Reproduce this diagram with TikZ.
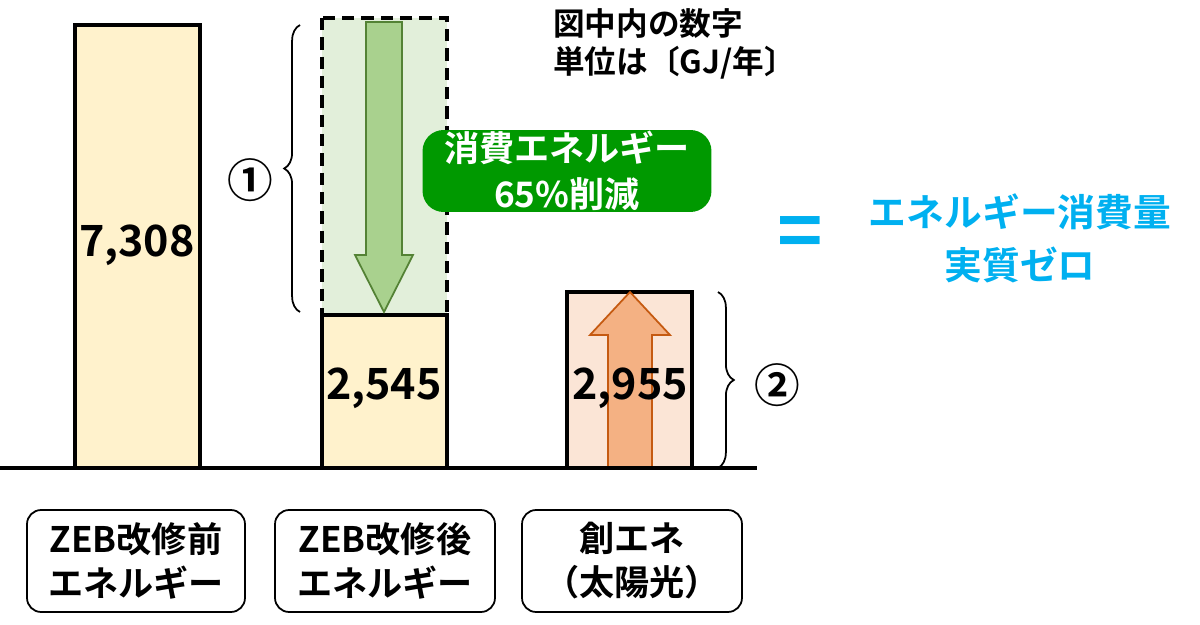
\documentclass[tikz,border=0pt]{standalone}
\usepackage{fontspec}
\setmainfont{Noto Sans CJK JP Bold}
\usetikzlibrary{decorations.pathreplacing}
\definecolor{ylw}{HTML}{FFF2CC}
\definecolor{lgr}{HTML}{E2EFDA}
\definecolor{agr}{HTML}{A9D18E}
\definecolor{dgr}{HTML}{548235}
\definecolor{pch}{HTML}{FBE5D6}
\definecolor{aor}{HTML}{F4B183}
\definecolor{dor}{HTML}{C55A11}
\definecolor{bgr}{HTML}{009900}
\definecolor{cyn}{HTML}{00B0F0}
\tikzset{x=0.02cm,y=-0.02cm,
 bar/.style={draw=black,line width=1.8pt},
 lbl/.style={draw=black,line width=1pt,rounded corners=8pt,align=center,font=\fontsize{20}{25}\selectfont},
 numtxt/.style={font=\fontsize{24.5}{28}\selectfont},
 brc/.style={decorate,decoration={brace,amplitude=9pt},line width=1pt}}
\begin{document}
\begin{tikzpicture}
\useasboundingbox (0,0) rectangle (1200,625);
% bar 1
\draw[bar,fill=ylw] (75,25) rectangle (200,468);
\node[numtxt] (n1) at (137,245) {7,308};
% bar 2
\draw[fill=lgr,draw=black,line width=1.8pt,dash pattern=on 7pt off 4pt] (322,18) rectangle (447,315);
\draw[bar,fill=ylw] (322,315) rectangle (447,468);
\draw[fill=agr,draw=dgr,line width=1pt] (366,22) -- (402,22) -- (402,255) -- (413,255) -- (384,312) -- (355,255) -- (366,255) -- cycle;
\node[numtxt] (n2) at (384,388) {2,545};
% bar 3
\draw[bar,fill=pch] (567,292) rectangle (692,468);
\draw[fill=aor,draw=dor,line width=1pt] (608,468) -- (608,335) -- (590,335) -- (630,292) -- (670,335) -- (652,335) -- (652,468) -- cycle;
\node[numtxt] (n3) at (630,388) {2,955};
% baseline
\draw[line width=2pt] (0,468) -- (757,468);
% braces
\draw[brc] (300,312) -- (300,25);
\node[font=\fontsize{26}{28}\selectfont] (c1) at (250,180) {①};
\draw[brc] (718,292) -- (718,468);
\node[font=\fontsize{26}{28}\selectfont] (c2) at (777,385) {②};
% green box
\node[fill=bgr,text=white,rounded corners=12pt,align=center,font=\fontsize{20}{26}\selectfont,inner sep=0pt,minimum width=5.78cm,minimum height=1.64cm] (gb) at (567,171) {消費エネルギー\\65\%削減};
% unit note
\node[anchor=north west,align=left,font=\fontsize{18}{22}\selectfont,inner sep=0pt] (unit) at (553,8) {図中内の数字\\単位は〔GJ/年〕};
% equals
\node[text=cyn,font=\fontsize{44}{44}\selectfont] (eq) at (800,238) {=};
\node[text=cyn,align=center,font=\fontsize{21.5}{30}\selectfont] (zero) at (1020,238) {エネルギー消費量\\実質ゼロ};
% labels
\node[lbl,minimum width=4.36cm,minimum height=2.04cm] (l1) at (136,561) {ZEB改修前\\エネルギー};
\node[lbl,minimum width=4.4cm,minimum height=2.04cm] (l2) at (385,561) {ZEB改修後\\エネルギー};
\node[lbl,minimum width=4.4cm,minimum height=2.04cm] (l3) at (632,561) {創エネ\\（太陽光）};
\end{tikzpicture}
\end{document}
